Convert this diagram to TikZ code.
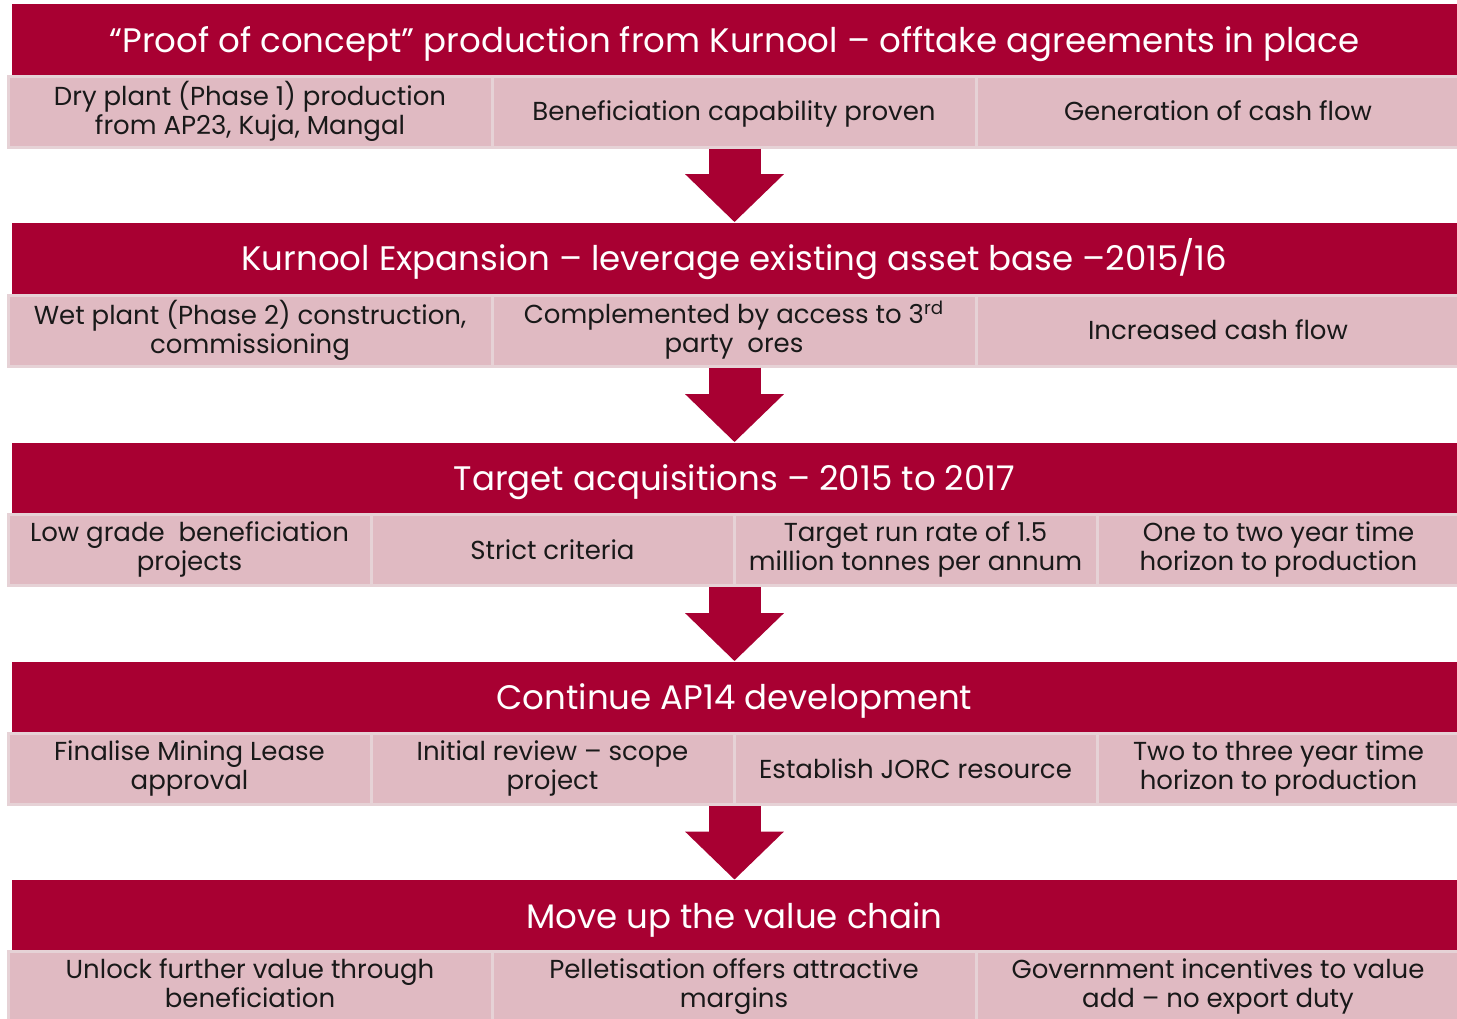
\documentclass[tikz,border=0pt]{standalone}
\usepackage{fontspec}
\setmainfont{Poppins}
\usepackage{xcolor}
\usepackage{tikz}
\usetikzlibrary{positioning,calc,arrows.meta}

\definecolor{wine}{RGB}{168,0,50}
\definecolor{blush}{RGB}{224,186,194}
\definecolor{blushline}{RGB}{230,210,214}
% keeps one and two line texts at the same height in the boxes
\newcommand{\rowstrut}{\rule[-3.5pt]{0pt}{16.2pt}}

\begin{document}
\begin{tikzpicture}[x=0.5pt, y=-0.5pt,
    head/.style={fill=wine, text=white, minimum width=722.5pt, minimum height=36pt,
        inner sep=0pt, text height=15pt, text depth=3pt, font=\fontsize{17}{20}\selectfont},
    sub/.style={fill=blush, draw=blushline, line width=1.5pt, minimum height=35.5pt,
        inner sep=0pt, align=center, text=black!90, font=\fontsize{13}{14.5}\selectfont,
        execute at begin node=\rowstrut, execute at end node=\rowstrut},
    third/.style={sub, minimum width=242pt},
    quarter/.style={sub, minimum width=181.5pt},
    flow/.style={wine, line width=26pt, -{Triangle[width=48pt, length=24pt]}}]
    \useasboundingbox (0,0) rectangle (1457,1018);

    % Proof of concept
    \node[head] (h1) at (734.5,40) {“Proof of concept” production from Kurnool – offtake agreements in place};
    \node[third] (s11) at (250,111.5) {Dry plant (Phase 1) production\\from AP23, Kuja, Mangal};
    \node[third] (s12) at (734,111.5) {Beneficiation capability proven};
    \node[third] (s13) at (1218,111.5) {Generation of cash flow};

    % Kurnool expansion
    \node[head] (h2) at (734.5,258.5) {Kurnool Expansion – leverage existing asset base –2015/16};
    \node[third] (s21) at (250,330.5) {Wet plant (Phase 2) construction,\\commissioning};
    \node[third] (s22) at (734,330.5) {Complemented by access to 3\textsuperscript{rd}\\party\ \ ores};
    \node[third] (s23) at (1218,330.5) {Increased cash flow};

    % Acquisitions
    \node[head] (h3) at (734.5,478.5) {Target acquisitions – 2015 to 2017};
    \node[quarter] (s31) at (189.5,550) {Low grade\ \ beneficiation\\projects};
    \node[quarter] (s32) at (552.5,550) {Strict criteria};
    \node[quarter] (s33) at (915.5,550) {Target run rate of 1.5\\million tonnes per annum};
    \node[quarter] (s34) at (1278.5,550) {One to two year time\\horizon to production};

    % AP14
    \node[head] (h4) at (734.5,697.5) {Continue AP14 development};
    \node[quarter] (s41) at (189.5,769) {Finalise Mining Lease\\approval};
    \node[quarter] (s42) at (552.5,769) {Initial review – scope\\project};
    \node[quarter] (s43) at (915.5,769) {Establish JORC resource};
    \node[quarter] (s44) at (1278.5,769) {Two to three year time\\horizon to production};

    % Value chain
    \node[head] (h5) at (734.5,916) {Move up the value chain};
    \node[third] (s51) at (250,986.5) {Unlock further value through\\beneficiation};
    \node[third] (s52) at (734,986.5) {Pelletisation offers attractive\\margins};
    \node[third] (s53) at (1218,986.5) {Government incentives to value\\add – no export duty};

    % arrows between the stages
    \draw[flow] (s12.south -| h1.south) -- (h2.north);
    \draw[flow] (s22.south -| h2.south) -- (h3.north);
    \draw[flow] (s32.south -| h3.south) -- (h4.north);
    \draw[flow] (s42.south -| h4.south) -- (h5.north);
\end{tikzpicture}
\end{document}
